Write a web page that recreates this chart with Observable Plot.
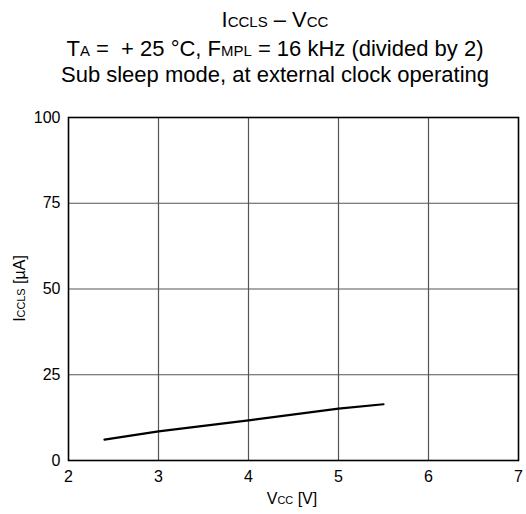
<!DOCTYPE html>
<html><head><meta charset="utf-8">
<script src="https://cdn.jsdelivr.net/npm/d3@7"></script>
<script src="https://cdn.jsdelivr.net/npm/@observablehq/plot@0.6"></script>
<style>
body{margin:0;background:#fff;}
svg{font-family:"Liberation Sans",Arial,Helvetica,sans-serif;overflow:visible;}
</style></head>
<body><div id="chart"></div>
<script>
const vcc = [2.4, 3, 4, 5, 5.5];
const iccls = [6.1, 8.5, 11.7, 15.1, 16.4];
const xTicks = [2, 3, 4, 5, 6, 7];
const yTicks = [0, 25, 50, 75, 100];
const data = vcc.map((v, i) => ({v, i: iccls[i]}));

const W = 526, H = 514, ML = 68, MR = 8, MT = 117, MB = 54;
const plot = Plot.plot({
  width: W, height: H,
  marginLeft: ML, marginRight: MR, marginTop: MT, marginBottom: MB,
  style: {fontSize: "16px", fontFamily: "'Liberation Sans', Arial, sans-serif", background: "#fff", color: "#000", overflow: "visible"},
  x: {domain: [2, 7], label: null},
  y: {domain: [0, 100], label: null},
  marks: [
    Plot.gridX(xTicks.slice(1, -1), {stroke: "#555", strokeOpacity: 1, strokeWidth: 1.2}),
    Plot.gridY(yTicks.slice(1, -1), {stroke: "#555", strokeOpacity: 1, strokeWidth: 1.2}),
    Plot.frame({stroke: "#000", strokeWidth: 1.6}),
    Plot.axisX({ticks: xTicks, tickFormat: d3.format("d"), tickSize: 0, tickPadding: 10, fontSize: 16}),
    Plot.axisY({ticks: yTicks, tickFormat: d3.format("d"), tickSize: 0, tickPadding: 8, fontSize: 16}),
    Plot.line(data, {x: "v", y: "i", stroke: "#000", strokeWidth: 2.2})
  ]
});
document.getElementById("chart").appendChild(plot);

const svg = d3.select(plot);
const cx = 275;
function rich(g, parts, fs) {
  parts.forEach(([t, small]) => {
    g.append("tspan").attr("font-size", small ? fs * 0.68 : fs).text(t);
  });
}
const titles = [
  [["I", 0], ["CCLS", 1], [" – V", 0], ["CC", 1]],
  [["T", 0], ["A", 1], [" =  + 25 °C, F", 0], ["MPL", 1], [" = 16 kHz (divided by 2)", 0]],
  [["Sub sleep mode, at external clock operating", 0]]
];
const ys = [27, 56, 82];
titles.forEach((parts, k) => {
  const t = svg.append("text").attr("x", cx).attr("y", ys[k]).attr("text-anchor", "middle").attr("fill", "#000");
  rich(t, parts, 22);
});
const xl = svg.append("text").attr("x", 292).attr("y", 504).attr("text-anchor", "middle").attr("fill", "#000");
rich(xl, [["V", 0], ["CC", 1], [" [V]", 0]], 16);
const yl = svg.append("text").attr("transform", `translate(25,${MT + (H - MT - MB) / 2}) rotate(-90)`).attr("text-anchor", "middle").attr("fill", "#000");
rich(yl, [["I", 0], ["CCLS", 1], [" [µA]", 0]], 16);
</script></body></html>
